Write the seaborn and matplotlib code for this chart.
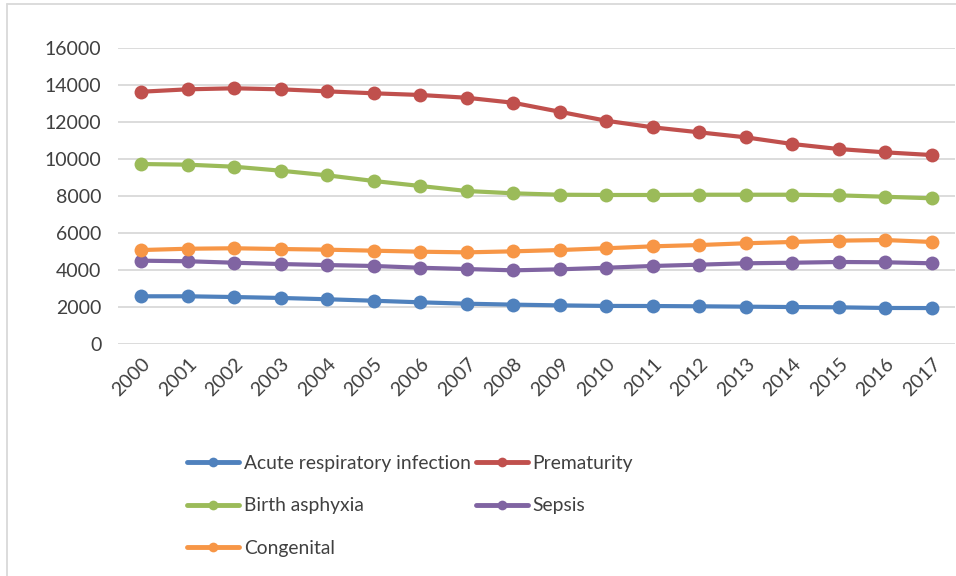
import numpy as np
import pandas as pd
import matplotlib
matplotlib.use("Agg")
import matplotlib.pyplot as plt
from matplotlib.lines import Line2D
import seaborn as sns

# ── Data ──────────────────────────────────────────────────────────────
years = list(range(2000, 2018))

acute_resp = [2590, 2590, 2550, 2500, 2430, 2350, 2265, 2190, 2140,
              2100, 2070, 2065, 2050, 2030, 2010, 1995, 1960, 1955]
prematurity = [13625, 13755, 13810, 13755, 13645, 13540, 13450, 13300, 13030,
               12545, 12060, 11705, 11435, 11165, 10805, 10535, 10355, 10210]
birth_asphyxia = [9725, 9690, 9580, 9365, 9115, 8810, 8540, 8270, 8145,
                  8070, 8055, 8055, 8070, 8070, 8070, 8035, 7960, 7875]
sepsis = [4510, 4480, 4400, 4330, 4275, 4225, 4130, 4060, 3990,
          4045, 4130, 4225, 4295, 4370, 4400, 4440, 4425, 4370]
congenital = [5085, 5155, 5180, 5140, 5105, 5050, 4995, 4960, 5015,
              5085, 5180, 5285, 5355, 5450, 5520, 5590, 5625, 5520]

causes = ["Acute respiratory infection", "Prematurity", "Birth asphyxia",
          "Sepsis", "Congenital"]
colors = ["#4F81BD", "#C0504D", "#9BBB59", "#8064A2", "#F79646"]

series = [acute_resp, prematurity, birth_asphyxia, sepsis, congenital]
df = pd.DataFrame({
    "Year": np.tile(years, len(causes)),
    "Deaths": np.concatenate(series),
    "Cause": np.repeat(causes, len(years)),
})

# ── Plot ──────────────────────────────────────────────────────────────
sns.set_style("white")
plt.rcParams["font.family"] = ["Lato", "DejaVu Sans"]

fig = plt.figure(figsize=(9.56, 5.76), dpi=100)
ax = fig.add_axes([118 / 956, 1 - 344.3 / 576, 837 / 956, 296.6 / 576])

sns.lineplot(data=df, x="Year", y="Deaths", hue="Cause", hue_order=causes,
             palette=colors, marker="o", markersize=10, markeredgewidth=0,
             linewidth=3, legend=False, ax=ax, sort=False)

ax.set_xlim(1999.5, 2017.5)
ax.set_ylim(0, 16000)
ax.set_yticks(np.arange(0, 16001, 2000))
ax.set_xticks(years)
ax.set_xticklabels([str(y) for y in years], rotation=45, ha="right",
                   rotation_mode="anchor")
ax.tick_params(axis="both", labelsize=14, colors="#404040", length=0)
ax.tick_params(axis="x", pad=8)
ax.tick_params(axis="y", pad=12)
ax.grid(axis="y", color="#D9D9D9", linewidth=1.3)
ax.set_axisbelow(True)
ax.set_xlabel("")
ax.set_ylabel("")
sns.despine(ax=ax, left=True, bottom=True)

# legend laid out row by row like the original
handles = [Line2D([], [], color=c, linewidth=3.5, marker="o", markersize=7,
                  markeredgewidth=0) for c in colors]
order = [0, 2, 4, 1, 3]
leg = fig.legend([handles[i] for i in order], [causes[i] for i in order],
                 ncol=2, loc="upper left", bbox_to_anchor=(187 / 956, 1 - 455 / 576),
                 frameon=False, fontsize=13.9, handlelength=2.7,
                 handletextpad=0.25, labelspacing=1.32, columnspacing=0.25,
                 borderpad=0, borderaxespad=0)
for t in leg.get_texts():
    t.set_color("#404040")

# chart-area border (left and top visible in the original)
fig.add_artist(Line2D([7 / 956, 7 / 956], [0, 1 - 3.5 / 576],
                      transform=fig.transFigure, color="#D9D9D9", linewidth=1.3))
fig.add_artist(Line2D([7 / 956, 1], [1 - 3.5 / 576, 1 - 3.5 / 576],
                      transform=fig.transFigure, color="#D9D9D9", linewidth=1.3))

fig.savefig("out.png", dpi=100)
plt.close(fig)
